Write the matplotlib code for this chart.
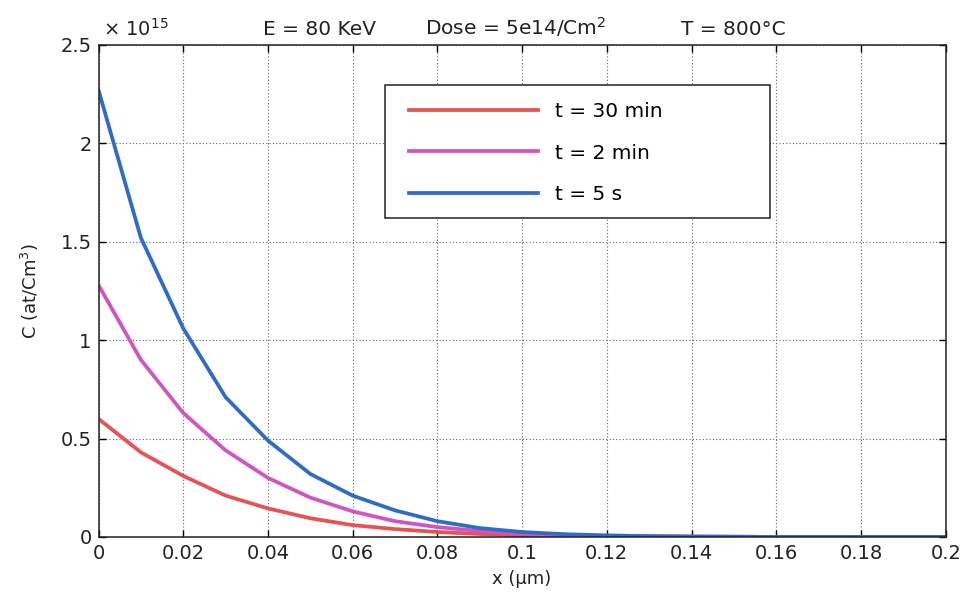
import numpy as np
import matplotlib
matplotlib.use("Agg")
import matplotlib.pyplot as plt
from matplotlib.patches import Rectangle

plt.rcParams['font.family'] = ['DejaVu Sans']

# Depth positions (um) and concentration profiles (units of 1e15 at/cm^3)
x_um = [0.00, 0.01, 0.02, 0.03, 0.04, 0.05, 0.06, 0.07, 0.08, 0.09, 0.10,
        0.11, 0.12, 0.13, 0.14, 0.15, 0.16, 0.17, 0.18, 0.19, 0.20]
c_30min = [0.60, 0.43, 0.31, 0.21, 0.145, 0.095, 0.06, 0.04, 0.025, 0.015, 0.008,
           0.005, 0.003, 0.002, 0.001, 0.001, 0.0, 0.0, 0.0, 0.0, 0.0]
c_2min = [1.28, 0.90, 0.63, 0.44, 0.30, 0.20, 0.13, 0.08, 0.05, 0.03, 0.016,
          0.009, 0.005, 0.003, 0.002, 0.001, 0.0, 0.0, 0.0, 0.0, 0.0]
c_5s = [2.27, 1.52, 1.06, 0.71, 0.49, 0.32, 0.21, 0.135, 0.08, 0.045, 0.025,
        0.014, 0.008, 0.004, 0.002, 0.001, 0.0, 0.0, 0.0, 0.0, 0.0]
labels = ["t = 30 min", "t = 2 min", "t = 5 s"]
colors = ["#e55352", "#d055c0", "#2f6cc6"]
title_parts = ["E = 80 KeV", "Dose = 5e14/Cm$^2$", "T = 800\u00b0C"]

x_ticks = [0, 0.02, 0.04, 0.06, 0.08, 0.1, 0.12, 0.14, 0.16, 0.18, 0.2]
x_tick_labels = ["0", "0.02", "0.04", "0.06", "0.08", "0.1", "0.12", "0.14", "0.16", "0.18", "0.2"]
y_ticks = [0, 0.5, 1, 1.5, 2, 2.5]
y_tick_labels = ["0", "0.5", "1", "1.5", "2", "2.5"]

fig = plt.figure(figsize=(9.66, 5.92), dpi=100)
ax = fig.add_axes([0.102, 0.093, 0.877, 0.831])

for y, lab, col in zip([c_30min, c_2min, c_5s], labels, colors):
    ax.plot(x_um, y, color=col, lw=2.7, label=lab, solid_joinstyle='round')

ax.set_xlim(0, 0.2)
ax.set_ylim(0, 2.5)
ax.set_xticks(x_ticks)
ax.set_xticklabels(x_tick_labels)
ax.set_yticks(y_ticks)
ax.set_yticklabels(y_tick_labels)
ax.tick_params(direction='in', length=5, width=1, labelsize=14, top=True, right=True,
               pad=5, labelcolor='#222222')
ax.grid(True, color='#666666', linestyle=(0, (1, 2)), linewidth=0.8)
for s in ax.spines.values():
    s.set_linewidth(1.1)
    s.set_color('#222222')

ax.set_xlabel("x (\u03bcm)", fontsize=13, labelpad=5, color='#222222')
ax.set_ylabel("C (at/Cm$^3$)", fontsize=13, labelpad=14, color='#222222')

# Title made of three spaced parts above the axes
for xpos, part in zip([0.261, 0.492, 0.749], title_parts):
    ax.text(xpos, 1.012, part, transform=ax.transAxes, fontsize=14.5,
            ha='center', va='bottom', color='#222222')
ax.text(0.005, 1.01, "\u00d7 10$^{15}$", transform=ax.transAxes, fontsize=14,
        ha='left', va='bottom', color='#222222')

# Legend box drawn as a separate frame, wider than the entries
ax.add_patch(Rectangle((0.338, 0.648), 0.454, 0.271, transform=ax.transAxes,
                       facecolor='white', edgecolor='#222222', linewidth=1.1, zorder=4))
leg = ax.legend(loc='upper left', bbox_to_anchor=(0.367, 0.885), fontsize=14.5,
                handlelength=6.4, handletextpad=0.85, labelspacing=1.14,
                borderpad=0, borderaxespad=0, frameon=False)
leg.set_zorder(5)
for line in leg.get_lines():
    line.set_linewidth(2.7)

fig.savefig("out.png", dpi=100)
